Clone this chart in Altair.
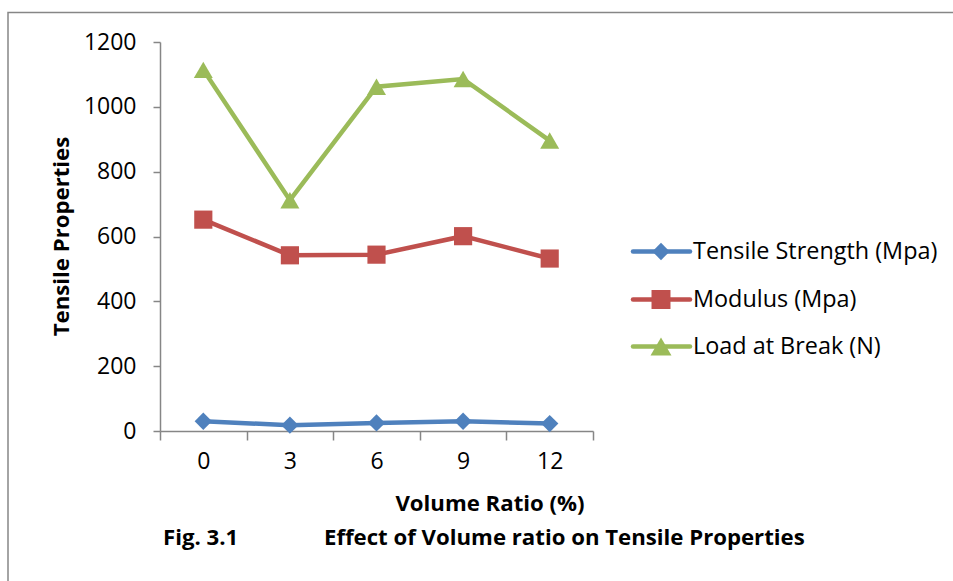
import altair as alt
import pandas as pd

ratios = ["0", "3", "6", "9", "12"]
tensile = [30, 18, 25, 30, 23]
modulus = [652, 542, 544, 601, 532]
load = [1114, 712, 1062, 1086, 896]
series_names = ["Tensile Strength (Mpa)", "Modulus (Mpa)", "Load at Break (N)"]
colors = ["#4F81BD", "#C0504D", "#9BBB59"]
shapes = ["diamond", "square", "triangle-up"]
sizes = [300, 360, 440]
y_ticks = [0, 200, 400, 600, 800, 1000, 1200]

rows = []
for name, vals in zip(series_names, [tensile, modulus, load]):
    for r, v in zip(ratios, vals):
        rows.append({"ratio": r, "value": v, "series": name})
df = pd.DataFrame(rows)

FONT = "Open Sans"
W, H = 433, 389
AX = "#868686"
LBL = 23

x = alt.X(
    "ratio:O", sort=ratios, bandPosition=0.5,
    scale=alt.Scale(type="band", paddingInner=0, paddingOuter=0),
    axis=alt.Axis(title=None, labelAngle=0, tickBand="extent", labelFontSize=LBL,
                  labelPadding=10, tickSize=9, labelFont=FONT, labelColor="#000"),
)
y = alt.Y(
    "value:Q", scale=alt.Scale(domain=[0, 1200]),
    axis=alt.Axis(values=y_ticks, format="d", title=None, grid=False, labelFontSize=LBL,
                  labelPadding=17, tickSize=7, labelFont=FONT, labelColor="#000"),
)
color = alt.Color("series:N", scale=alt.Scale(domain=series_names, range=colors), legend=None)
shape = alt.Shape("series:N", scale=alt.Scale(domain=series_names, range=shapes), legend=None)
size = alt.Size("series:N", scale=alt.Scale(domain=series_names, range=sizes), legend=None)

lines = alt.Chart(df).mark_line(strokeWidth=4.5).encode(x=x, y=y, color=color, detail="series:N")
points = alt.Chart(df).mark_point(filled=True, opacity=1).encode(x=x, y=y, color=color, shape=shape, size=size)

one = pd.DataFrame({"a": [0]})

def text(t, xv, yv, size_, bold=False, align="left", angle=0):
    kw = dict(text=t, font=FONT, fontSize=size_, fontWeight="bold" if bold else "normal",
              align=align, baseline="middle", color="#000")
    if angle:
        kw["angle"] = angle
    return alt.Chart(one).mark_text(**kw).encode(x=alt.value(xv), y=alt.value(yv))

layers = [lines, points]

legend_y = [209.5, 257.5, 304.5]
for name, c, s, sz, ly in zip(series_names, colors, shapes, sizes, legend_y):
    layers.append(alt.Chart(one).mark_rule(color=c, strokeWidth=4.5, strokeCap="round").encode(
        x=alt.value(473), x2=alt.value(530), y=alt.value(ly)))
    layers.append(alt.Chart(one).mark_point(filled=True, opacity=1, color=c, shape=s, size=sz).encode(
        x=alt.value(501), y=alt.value(ly)))
    layers.append(text(name, 533, ly, 23.4))

TB = 22.2
layers.append(text("Tensile Properties", -98, 194.5, TB, bold=True, align="center", angle=270))
layers.append(text("Volume Ratio (%)", 330, 462, TB, bold=True, align="center"))
layers.append(text("Fig. 3.1", 3, 496, TB, bold=True))
layers.append(text("Effect of Volume ratio on Tensile Properties", 164, 496, TB, bold=True))

border = alt.Chart(one).mark_rect(fill=None, stroke=AX, strokeWidth=1.5).encode(
    x=alt.value(-152), x2=alt.value(900), y=alt.value(-29.5), y2=alt.value(600))
layers.append(border)

chart = alt.layer(*layers).properties(
    width=W, height=H,
    padding={"left": 160, "top": 42, "right": 360, "bottom": 150},
    autosize="none",
    background="white",
).configure_view(stroke=None).configure_axis(
    domainColor=AX, domainWidth=1.5, tickColor=AX, tickWidth=1.5,
)

chart.save("out.html", embed_options={"renderer": "svg", "actions": False})
